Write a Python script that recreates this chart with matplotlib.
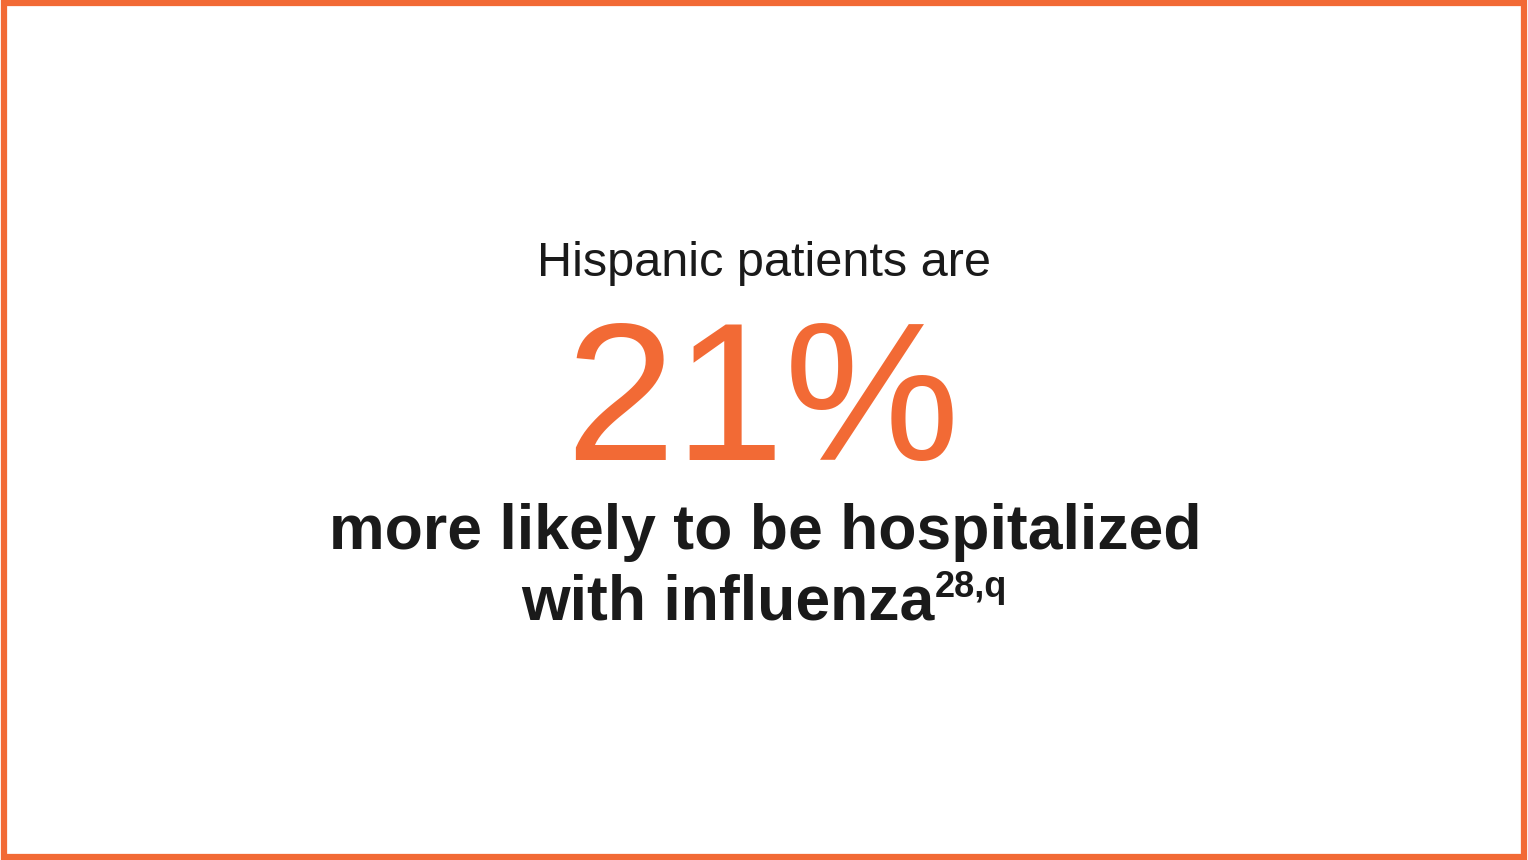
import matplotlib
matplotlib.use("Agg")
import matplotlib.pyplot as plt
from matplotlib.patches import Rectangle

intro = "Hispanic patients are"
value = 21
line1 = "more likely to be hospitalized"
line2 = "with influenza"
footnote = "28,q"

ORANGE = "#F26A35"
DARK = "#1a1a1a"
plt.rcParams['font.family'] = ['Liberation Sans', 'DejaVu Sans']

fig = plt.figure(figsize=(15.28, 8.6), dpi=100)
fig.patch.set_facecolor("white")
W, H = 1528, 860
def fx(x): return x / W
def fy(y): return 1 - y / H

fig.patches.append(Rectangle((0.0025, 0.004), 0.995, 0.992, transform=fig.transFigure,
                             fill=False, edgecolor=ORANGE, linewidth=4.5))

fig.text(fx(764), fy(276), intro, ha="center", va="baseline", fontsize=35, color=DARK)
fig.text(fx(762), fy(460), f"{value}%", ha="center", va="baseline", fontsize=142, color=ORANGE)
fig.text(fx(765), fy(549), line1, ha="center", va="baseline", fontsize=45, fontweight="bold", color=DARK)
t = fig.text(fx(934), fy(619), line2, ha="right", va="baseline", fontsize=45, fontweight="bold", color=DARK)
fig.text(fx(935), fy(597), footnote, ha="left", va="baseline", fontsize=26, fontweight="bold", color=DARK)

fig.savefig("out.png", dpi=100, facecolor="white")
